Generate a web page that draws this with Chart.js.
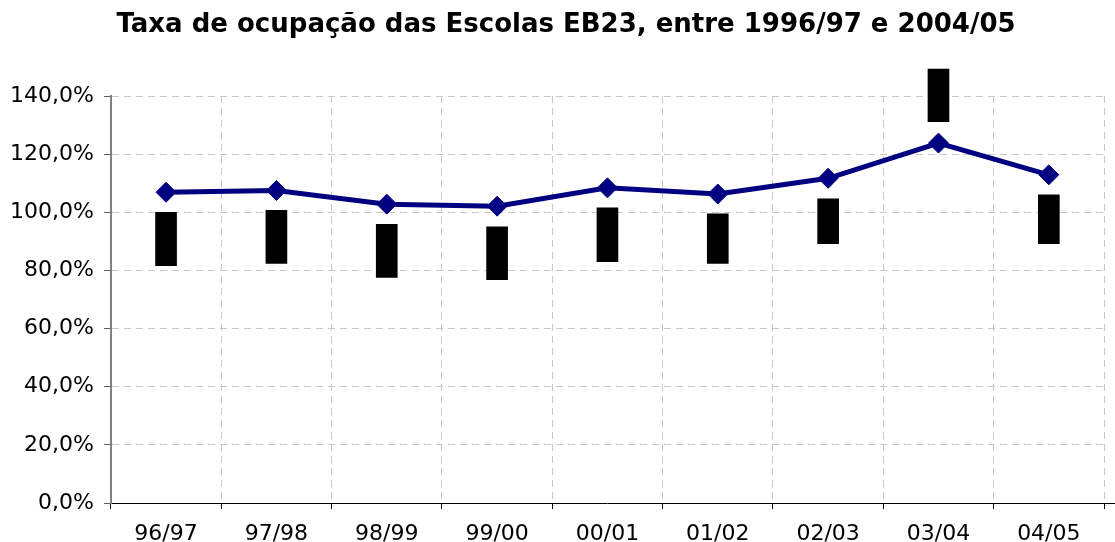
<!DOCTYPE html>
<html>
<head>
<meta charset="utf-8">
<script src="https://cdn.jsdelivr.net/npm/chart.js@4/dist/chart.umd.min.js"></script>
<style>
html,body{margin:0;padding:0;background:#fff;}
#wrap{width:1115px;height:542px;position:relative;}
</style>
</head>
<body>
<div id="wrap"><canvas id="c" width="1115" height="542"></canvas></div>
<script>
const titleText = 'Taxa de ocupação das Escolas EB23, entre 1996/97 e 2004/05';
const categories = ['96/97','97/98','98/99','99/00','00/01','01/02','02/03','03/04','04/05'];
const occupancyRate = [106.9, 107.5, 102.8, 102.1, 108.4, 106.3, 111.7, 123.8, 112.9];
const boxLow  = [81.6, 82.4, 77.6, 76.8, 83.0, 82.4, 89.2, 131.2, 89.2];
const boxHigh = [100.0, 100.7, 95.9, 95.0, 101.5, 99.5, 104.6, 149.3, 106.0];
const yTicks = [0, 20, 40, 60, 80, 100, 120, 140];

const boxData = categories.map((c, i) => [boxLow[i], boxHigh[i]]);
const fmt = v => v.toFixed(1).replace('.', ',') + '%';

const extendAxis = {
  id: 'extendAxis',
  afterDraw(chart) {
    const ctx = chart.ctx, a = chart.chartArea;
    ctx.save();
    ctx.strokeStyle = '#000';
    ctx.lineWidth = 1;
    ctx.beginPath();
    ctx.moveTo(a.right, a.bottom + 0.5);
    ctx.lineTo(chart.width, a.bottom + 0.5);
    ctx.stroke();
    ctx.restore();
  }
};

const pageTitle = {
  id: 'pageTitle',
  afterDraw(chart) {
    const ctx = chart.ctx;
    ctx.save();
    ctx.fillStyle = '#000';
    ctx.font = 'bold 26px "DejaVu Sans"';
    ctx.textAlign = 'center';
    ctx.textBaseline = 'middle';
    ctx.fillText(titleText, 566, 25);
    ctx.restore();
  }
};

const transparent = 'rgba(0,0,0,0)';

new Chart(document.getElementById('c'), {
  data: {
    labels: categories,
    datasets: [
      {
        type: 'line',
        data: occupancyRate,
        borderColor: '#000080',
        backgroundColor: '#000080',
        borderWidth: 5,
        pointStyle: 'rectRot',
        pointRadius: 10,
        pointBorderWidth: 1,
        pointBackgroundColor: '#000080',
        pointBorderColor: '#000080',
        tension: 0,
        order: 0
      },
      {
        type: 'bar',
        data: boxData,
        backgroundColor: '#000',
        borderWidth: 0,
        barThickness: 21,
        clip: false,
        order: 1
      }
    ]
  },
  options: {
    responsive: false,
    animation: false,
    layout: { padding: { left: 0, right: 10, top: 96, bottom: 0 } },
    plugins: {
      legend: { display: false },
      tooltip: { enabled: false },
      title: { display: false }
    },
    scales: {
      x: {
        type: 'category',
        offset: true,
        afterFit: (axis) => { axis.height = 39; },
        grid: {
          offset: true,
          color: (ctx) => (ctx.index === 0 || ctx.index === categories.length) ? transparent : '#c8c8c8',
          tickColor: (ctx) => ctx.index === categories.length ? transparent : '#000',
          tickLength: 6,
          lineWidth: 1
        },
        border: { display: true, color: '#000', width: 1, dash: [7, 5] },
        ticks: {
          color: '#000',
          padding: 14,
          font: { family: 'DejaVu Sans', size: 22, lineHeight: 1.0 },
          maxRotation: 0
        }
      },
      y: {
        min: 0,
        max: 140,
        afterBuildTicks: (axis) => { axis.ticks = yTicks.map(v => ({ value: v })); },
        grid: {
          color: (ctx) => ctx.index === 0 ? transparent : '#c8c8c8',
          tickColor: '#606060',
          tickLength: 7,
          lineWidth: 1
        },
        border: { display: true, color: '#808080', width: 2, dash: [7, 5] },
        ticks: {
          color: '#000',
          padding: 10,
          font: { family: 'DejaVu Sans', size: 22 },
          callback: (v) => fmt(v)
        }
      }
    }
  },
  plugins: [extendAxis, pageTitle]
});
</script>
</body>
</html>
